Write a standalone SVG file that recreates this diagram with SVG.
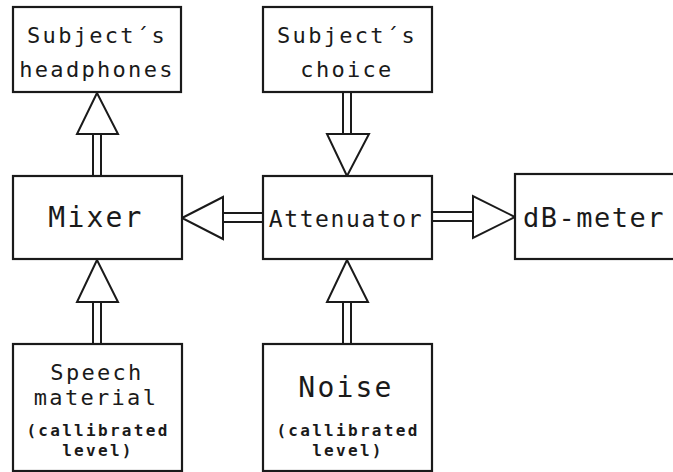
<svg xmlns="http://www.w3.org/2000/svg" width="673" height="472" viewBox="0 0 673 472">
  <style>
    .box { fill: #fff; stroke: #1a1a1a; stroke-width: 2.2; }
    .shaft { stroke: #1a1a1a; stroke-width: 2; fill: none; }
    .head { fill: #fff; stroke: #1a1a1a; stroke-width: 2; stroke-linejoin: miter; }
    text { font-family: "DejaVu Sans Mono", "Liberation Mono", monospace; fill: #1a1a1a; text-anchor: middle; }
    .t22 { font-size: 22px; letter-spacing: 2.3px; }
    .t28 { font-size: 28px; letter-spacing: 2.2px; }
    .small { font-size: 16px; font-weight: bold; letter-spacing: 2.3px; }
  </style>
  <rect width="673" height="472" fill="#fff"/>

  <g id="connectors">
    <!-- Mixer -> headphones -->
    <line class="shaft" x1="93" y1="134" x2="93" y2="176"/>
    <line class="shaft" x1="101" y1="134" x2="101" y2="176"/>
    <polygon class="head" points="97,93 77,134 118,134"/>
    <!-- Subject's choice -> Attenuator -->
    <line class="shaft" x1="343" y1="92" x2="343" y2="134"/>
    <line class="shaft" x1="351" y1="92" x2="351" y2="134"/>
    <polygon class="head" points="327,134 369,134 347,176"/>
    <!-- Attenuator -> Mixer -->
    <line class="shaft" x1="223" y1="213" x2="263" y2="213"/>
    <line class="shaft" x1="223" y1="222" x2="263" y2="222"/>
    <polygon class="head" points="182,218 223,197 223,239"/>
    <!-- Attenuator -> dB-meter -->
    <line class="shaft" x1="432" y1="212" x2="473" y2="212"/>
    <line class="shaft" x1="432" y1="221" x2="473" y2="221"/>
    <polygon class="head" points="473,196 473,238 515,217"/>
    <!-- Speech material -> Mixer -->
    <line class="shaft" x1="93" y1="302" x2="93" y2="344"/>
    <line class="shaft" x1="101" y1="302" x2="101" y2="344"/>
    <polygon class="head" points="97,260 77,302 118,302"/>
    <!-- Noise -> Attenuator -->
    <line class="shaft" x1="343" y1="302" x2="343" y2="344"/>
    <line class="shaft" x1="351" y1="302" x2="351" y2="344"/>
    <polygon class="head" points="347,260 327,302 368,302"/>
  </g>

  <g id="headphones">
    <rect class="box" x="13" y="7" width="168" height="85"/>
    <text class="t22" x="97" y="43">Subject´s</text>
    <text class="t22" x="97" y="77">headphones</text>
  </g>

  <g id="choice">
    <rect class="box" x="263" y="7" width="169" height="85"/>
    <text class="t22" x="347" y="43">Subject´s</text>
    <text class="t22" x="347" y="77">choice</text>
  </g>

  <g id="mixer">
    <rect class="box" x="13" y="176" width="169" height="83"/>
    <text class="t28" x="96" y="227">Mixer</text>
  </g>

  <g id="attenuator">
    <rect class="box" x="263" y="176" width="169" height="83"/>
    <text x="346" y="227" style="font-size:23px;letter-spacing:1.6px">Attenuator</text>
  </g>

  <g id="dbmeter">
    <rect class="box" x="515" y="174" width="170" height="85"/>
    <text x="523" y="227" style="font-size:27px;letter-spacing:1.5px;text-anchor:start">dB-meter</text>
  </g>

  <g id="speech">
    <rect class="box" x="13" y="344" width="169" height="127"/>
    <text class="t22" x="97" y="380">Speech</text>
    <text class="t22" x="96" y="405">material</text>
    <text class="small" x="98" y="436">(callibrated</text>
    <text class="small" x="98" y="456">level)</text>
  </g>

  <g id="noise">
    <rect class="box" x="263" y="344" width="169" height="127"/>
    <text class="t28" x="346" y="397">Noise</text>
    <text class="small" x="348" y="436">(callibrated</text>
    <text class="small" x="348" y="456">level)</text>
  </g>
</svg>
